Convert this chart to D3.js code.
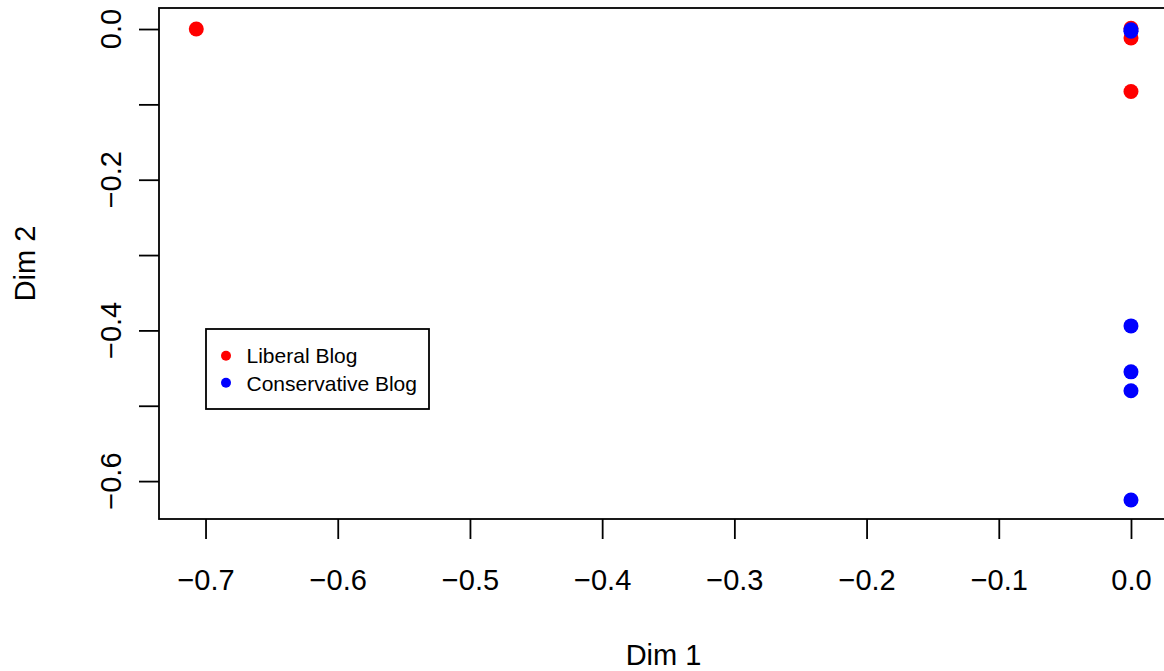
<!DOCTYPE html>
<html>
<head>
<meta charset="utf-8">
<script src="https://cdn.jsdelivr.net/npm/d3@7"></script>
<style>
  html, body { margin: 0; padding: 0; background: #fff; overflow: hidden; }
  text { font-family: "Liberation Sans", Arial, Helvetica, sans-serif; fill: #000; }
</style>
</head>
<body>
<div id="graph"></div>
<script>
// datos
const liberalX = [-0.707, 0, 0, 0];
const liberalY = [0, 0.001, -0.012, -0.083];
const conservX = [0, 0, 0, 0, 0, 0];
const conservY = [-0.003, -0.001, -0.394, -0.455, -0.480, -0.625];
const xTicks = [-0.7, -0.6, -0.5, -0.4, -0.3, -0.2, -0.1, 0.0];
const yTicks = [0.0, -0.1, -0.2, -0.3, -0.4, -0.5, -0.6];
const yLabels = [0.0, -0.2, -0.4, -0.6];
const legendLabels = ["Liberal Blog", "Conservative Blog"];
const legendColors = ["red", "blue"];

const width = 1164, height = 671;
const mLeft = 159, mRight = 1168, mTop = 8, mBottom = 519;
const fs = 29;

const svg = d3.select("#graph").append("svg")
    .attr("width", width)
    .attr("height", height);

// escalas
const x = d3.scaleLinear().domain([-0.7352, 0.028]).range([mLeft, mRight]);
const y = d3.scaleLinear().domain([-0.6503, 0.0279]).range([mBottom, mTop]);
const fmt = d3.format(".1f");

// eje x
const gx = svg.append("g").attr("transform", `translate(0,${mBottom})`)
    .call(d3.axisBottom(x).tickValues(xTicks).tickSize(20).tickFormat(fmt));
gx.select(".domain").remove();
gx.selectAll(".tick line").attr("stroke", "#000").attr("stroke-width", 1.8);
gx.selectAll(".tick text")
    .attr("dy", null).attr("y", 71)
    .attr("font-size", fs).attr("font-family", null);

// eje y
const gy = svg.append("g").attr("transform", `translate(${mLeft},0)`)
    .call(d3.axisLeft(y).tickValues(yTicks).tickSize(20).tickFormat(""));
gy.select(".domain").remove();
gy.selectAll(".tick line").attr("stroke", "#000").attr("stroke-width", 1.8);
svg.append("g").selectAll("text")
    .data(yLabels)
    .enter().append("text")
    .attr("transform", d => `translate(121,${y(d)}) rotate(-90)`)
    .attr("text-anchor", "middle")
    .attr("font-size", fs)
    .text(d => fmt(d));

// caja
svg.append("rect")
    .attr("x", mLeft).attr("y", mTop)
    .attr("width", mRight - mLeft).attr("height", mBottom - mTop)
    .attr("fill", "none").attr("stroke", "#000").attr("stroke-width", 1.8);

// títulos
svg.append("text")
    .attr("x", (mLeft + mRight) / 2).attr("y", 665)
    .attr("text-anchor", "middle").attr("font-size", fs)
    .text("Dim 1");
svg.append("text")
    .attr("transform", `translate(35,${(mTop + mBottom) / 2}) rotate(-90)`)
    .attr("text-anchor", "middle").attr("font-size", fs)
    .text("Dim 2");

// puntos
svg.append("g").selectAll("circle")
    .data(liberalX.map((d, i) => [d, liberalY[i]]))
    .enter().append("circle")
    .attr("cx", d => x(d[0])).attr("cy", d => y(d[1]))
    .attr("r", 7.5).attr("fill", "red");
svg.append("g").selectAll("circle")
    .data(conservX.map((d, i) => [d, conservY[i]]))
    .enter().append("circle")
    .attr("cx", d => x(d[0])).attr("cy", d => y(d[1]))
    .attr("r", 7.5).attr("fill", "blue");

// leyenda
const lg = svg.append("g");
lg.append("rect")
    .attr("x", 206).attr("y", 329).attr("width", 223).attr("height", 80)
    .attr("fill", "#fff").attr("stroke", "#000").attr("stroke-width", 1.8);
legendLabels.forEach((lab, i) => {
    lg.append("circle")
        .attr("cx", 226).attr("cy", 355.7 + i * 27)
        .attr("r", 5).attr("fill", legendColors[i]);
    lg.append("text")
        .attr("x", 246.5).attr("y", 363.3 + i * 27.4)
        .attr("font-size", 21)
        .text(lab);
});
</script>
</body>
</html>
